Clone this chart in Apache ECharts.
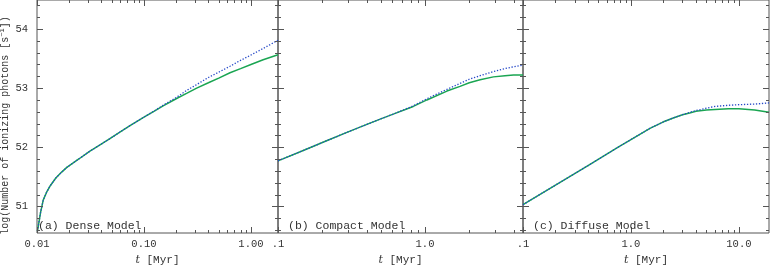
<!DOCTYPE html>
<html><head><meta charset="utf-8">
<script src="https://cdn.jsdelivr.net/npm/echarts@6/dist/echarts.min.js"></script>
<style>html,body{margin:0;padding:0;background:#fff}#c{width:770px;height:265px}</style>
</head><body><div id="c"></div>
<script>
// ---------- data ----------
const panelNames = ['(a) Dense Model', '(b) Compact Model', '(c) Diffuse Model'];

const tA     = [0.0101,0.0108,0.01145,0.0123,0.0132,0.0150,0.0170,0.0190,0.025,0.031,0.0388,0.048,0.060,0.074,0.100,0.125,0.151,0.200,0.250,0.311,0.400,0.500,0.637,0.800,1.000,1.300,1.790];
const greenA = [50.58,50.90,51.11,51.24,51.34,51.48,51.58,51.66,51.81,51.93,52.04,52.145,52.26,52.365,52.51,52.61,52.70,52.82,52.91,53.00,53.09,53.17,53.26,53.33,53.40,53.48,53.565];
const blueA  = [50.58,50.90,51.11,51.24,51.34,51.48,51.58,51.66,51.81,51.93,52.04,52.145,52.26,52.365,52.51,52.615,52.71,52.84,52.96,53.06,53.18,53.27,53.37,53.47,53.56,53.67,53.81];

const tB     = [0.100,0.150,0.214,0.300,0.361,0.500,0.608,0.832,1.030,1.410,1.730,2.000,2.370,2.920,3.500,4.000,4.640];
const greenB = [51.77,51.95,52.11,52.26,52.34,52.48,52.56,52.69,52.80,52.95,53.03,53.09,53.14,53.19,53.21,53.22,53.22];
const blueB  = [51.77,51.95,52.11,52.26,52.34,52.48,52.56,52.70,52.82,52.98,53.08,53.15,53.21,53.28,53.33,53.36,53.39];

const tC     = [0.100,0.200,0.400,0.775,1.000,1.500,2.000,2.500,3.000,3.500,4.000,5.000,6.000,8.000,10.00,14.00,19.00];
const greenC = [51.03,51.36,51.69,52.01,52.13,52.32,52.43,52.50,52.55,52.58,52.61,52.63,52.64,52.65,52.65,52.63,52.59];
const blueC  = [51.03,51.36,51.69,52.01,52.13,52.32,52.43,52.50,52.55,52.59,52.62,52.66,52.69,52.71,52.72,52.73,52.75];

const xRangeA = [0.01, 1.79];
const xRangeB = [0.1, 4.64];
const xRangeC = [0.1, 19];
const yRange  = [50.55, 54.49];

const xLabelValsA = [0.01, 0.1, 1];      const xLabelsA = ['0.01', '0.10', '1.00'];
const xLabelValsB = [0.1, 1];            const xLabelsB = ['.1', '1.0'];
const xLabelValsC = [0.1, 1, 10];        const xLabelsC = ['.1', '1.0', '10.0'];

const xMinorA = [0.02,0.03,0.04,0.05,0.06,0.07,0.08,0.09,0.2,0.3,0.4,0.5,0.6,0.7,0.8,0.9];
const xMinorB = [0.2,0.3,0.4,0.5,0.6,0.7,0.8,0.9,2,3,4];
const xMinorC = [0.2,0.3,0.4,0.5,0.6,0.7,0.8,0.9,2,3,4,5,6,7,8,9];

const yMajor = [51, 52, 53, 54];
const yMinor = [50.6,50.8,51.2,51.4,51.6,51.8,52.2,52.4,52.6,52.8,53.2,53.4,53.6,53.8,54.2,54.4];
const yLabels = ['51', '52', '53', '54'];

// ---------- chart ----------
const FONT = 'Liberation Mono';
const TXT = '#333';
const FRAME = '#555';
const GREEN = '#1aa552';
const BLUE = '#2548c8';

const panels = [
  {t: tA, g: greenA, b: blueA, xr: xRangeA, lv: xLabelValsA, lt: xLabelsA, minor: xMinorA, grid: {left: 37, top: 0, width: 241, height: 233}},
  {t: tB, g: greenB, b: blueB, xr: xRangeB, lv: xLabelValsB, lt: xLabelsB, minor: xMinorB, grid: {left: 278, top: 0, width: 245, height: 233}},
  {t: tC, g: greenC, b: blueC, xr: xRangeC, lv: xLabelValsC, lt: xLabelsC, minor: xMinorC, grid: {left: 523, top: 0, width: 246, height: 233}}
];

function zip(a, b) { return a.map((v, i) => [v, b[i]]); }
function px(v) { return Math.round(v) + 0.5; }

function xTickRenderer(len) {
  return function (params, api) {
    const v = api.value(0);
    const pb = api.coord([v, yRange[0]]);
    const pt = api.coord([v, yRange[1]]);
    const x = px(pb[0]);
    const st = {stroke: FRAME, lineWidth: 1};
    return {type: 'group', children: [
      {type: 'line', shape: {x1: x, y1: pb[1], x2: x, y2: pb[1] - len}, style: st},
      {type: 'line', shape: {x1: x, y1: pt[1], x2: x, y2: pt[1] + len}, style: st}
    ]};
  };
}
function yTickRenderer(len, xr) {
  return function (params, api) {
    const v = api.value(1);
    const pl = api.coord([xr[0], v]);
    const pr = api.coord([xr[1], v]);
    const y = px(pl[1]);
    const st = {stroke: FRAME, lineWidth: 1};
    return {type: 'group', children: [
      {type: 'line', shape: {x1: pl[0], y1: y, x2: pl[0] + len, y2: y}, style: st},
      {type: 'line', shape: {x1: pr[0], y1: y, x2: pr[0] - len, y2: y}, style: st}
    ]};
  };
}

const grid = [], xAxis = [], yAxis = [], series = [], graphic = [];
panels.forEach((p, i) => {
  grid.push(Object.assign({show: true, borderColor: FRAME, borderWidth: 1, backgroundColor: 'transparent',
    containLabel: false, outerBoundsMode: 'none'}, p.grid));
  xAxis.push({
    type: 'log', logBase: 10, gridIndex: i, min: p.xr[0], max: p.xr[1],
    axisLine: {show: false}, axisTick: {show: false}, splitLine: {show: false},
    axisLabel: {
      show: true, margin: 6, color: TXT, fontFamily: FONT, fontSize: 10.5,
      formatter: function (val) {
        for (let k = 0; k < p.lv.length; k++) {
          if (Math.abs(Math.log10(val) - Math.log10(p.lv[k])) < 1e-6) return p.lt[k];
        }
        return '';
      }
    },
    name: '{it|t} [Myr]', nameLocation: 'middle', nameGap: 18,
    nameTextStyle: {color: TXT, fontFamily: FONT, fontSize: 11,
      rich: {it: {fontStyle: 'italic', fontFamily: 'DejaVu Serif', fontSize: 11, color: TXT}}}
  });
  yAxis.push({
    type: 'value', gridIndex: i, min: yRange[0], max: yRange[1],
    axisLine: {show: false}, axisTick: {show: false}, splitLine: {show: false},
    axisLabel: i === 0 ? {
      show: true, customValues: yMajor, margin: 9, color: TXT, fontFamily: FONT, fontSize: 10.5,
      formatter: function (val) { const k = yMajor.indexOf(Math.round(val)); return k >= 0 && Math.abs(val - yMajor[k]) < 1e-6 ? yLabels[k] : ''; }
    } : {show: false},
    name: i === 0 ? 'log(Number of ionizing photons [s{sup|\u22121}])' : '',
    nameLocation: 'middle', nameGap: 25,
    nameTextStyle: {color: TXT, fontFamily: FONT, fontSize: 10, padding: [0, 18, 0, 0],
      rich: {sup: {fontSize: 7, verticalAlign: 'bottom', padding: [0, 0, 6, 0], fontFamily: FONT, color: TXT}}}
  });
  series.push({
    type: 'line', xAxisIndex: i, yAxisIndex: i, data: zip(p.t, p.g), showSymbol: false, symbol: 'none',
    smooth: false, clip: true, silent: true,
    lineStyle: {color: GREEN, width: 1.5}, z: 3
  });
  series.push({
    type: 'line', xAxisIndex: i, yAxisIndex: i, data: zip(p.t, p.b), showSymbol: false, symbol: 'none',
    smooth: false, clip: true, silent: true,
    lineStyle: {color: BLUE, width: 1.3, type: [1.3, 1.7]}, z: 4
  });
  series.push({type: 'custom', xAxisIndex: i, yAxisIndex: i, silent: true, clip: false, z: 5,
    data: p.lv.map(v => [v, yRange[0]]), renderItem: xTickRenderer(6)});
  series.push({type: 'custom', xAxisIndex: i, yAxisIndex: i, silent: true, clip: false, z: 5,
    data: p.minor.map(v => [v, yRange[0]]), renderItem: xTickRenderer(3)});
  series.push({type: 'custom', xAxisIndex: i, yAxisIndex: i, silent: true, clip: false, z: 5,
    data: yMajor.map(v => [p.xr[0], v]), renderItem: yTickRenderer(6, p.xr)});
  series.push({type: 'custom', xAxisIndex: i, yAxisIndex: i, silent: true, clip: false, z: 5,
    data: yMinor.map(v => [p.xr[0], v]), renderItem: yTickRenderer(3, p.xr)});
  graphic.push({
    type: 'text', left: p.grid.left + (i === 0 ? 1 : 10), top: 220, z: 10, silent: true,
    style: {text: panelNames[i], fill: TXT, font: '11.5px "' + FONT + '"'}
  });
});

const chart = echarts.init(document.getElementById('c'), null, {renderer: 'canvas'});
chart.setOption({
  animation: false,
  backgroundColor: '#fff',
  grid, xAxis, yAxis, series, graphic
});
</script>
</body></html>
